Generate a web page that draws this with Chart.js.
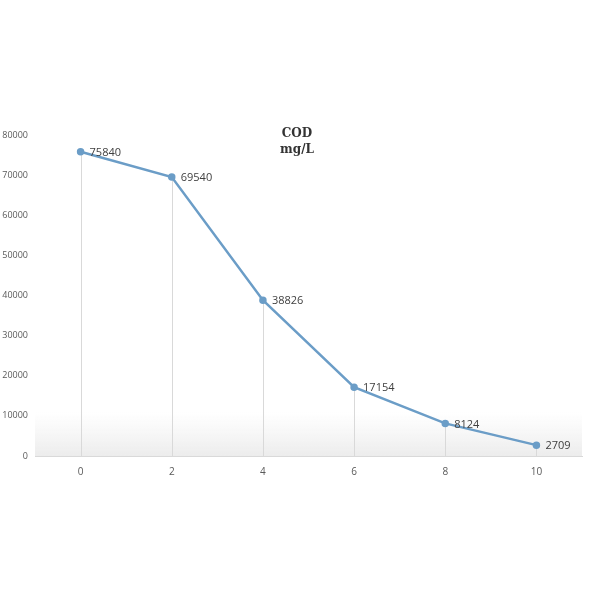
<!DOCTYPE html>
<html>
<head>
<meta charset="utf-8">
<script src="https://cdn.jsdelivr.net/npm/chart.js@4/dist/chart.umd.min.js"></script>
<style>
  html, body { margin: 0; padding: 0; background: #fff; }
  #wrap { width: 600px; height: 600px; position: relative; }
</style>
</head>
<body>
<div id="wrap"><canvas id="codChart" width="600" height="600"></canvas></div>
<script>
// chart data
const hours = ["0", "2", "4", "6", "8", "10"];
const codValues = [75840, 69540, 38826, 17154, 8124, 2709];
const yTicks = [0, 10000, 20000, 30000, 40000, 50000, 60000, 70000, 80000];
const titleLines = ["COD", "mg/L"];

const lineColor = "#6b9dc7";

// light grey shading along the bottom of the plot
const bottomBand = {
  id: "bottomBand",
  beforeDatasetsDraw(chart) {
    const { ctx, chartArea } = chart;
    const y = chart.scales.y;
    const top = y.getPixelForValue(11000);
    const bottom = y.getPixelForValue(0);
    const grad = ctx.createLinearGradient(0, top, 0, bottom);
    grad.addColorStop(0, "rgba(240,240,240,0)");
    grad.addColorStop(1, "rgba(236,236,236,1)");
    ctx.save();
    ctx.fillStyle = grad;
    ctx.fillRect(chartArea.left, top, chartArea.right - chartArea.left, bottom - top);
    ctx.restore();
  },
};

// vertical drop lines from each point down to the axis
const dropLines = {
  id: "dropLines",
  beforeDatasetsDraw(chart) {
    const { ctx } = chart;
    const meta = chart.getDatasetMeta(0);
    const base = chart.scales.y.getPixelForValue(0);
    ctx.save();
    ctx.strokeStyle = "#d9d9d9";
    ctx.lineWidth = 1;
    meta.data.forEach((pt) => {
      ctx.beginPath();
      ctx.moveTo(Math.round(pt.x) + 0.5, pt.y);
      ctx.lineTo(Math.round(pt.x) + 0.5, base);
      ctx.stroke();
    });
    ctx.restore();
  },
};

// value labels next to the points
const valueLabels = {
  id: "valueLabels",
  afterDatasetsDraw(chart) {
    const { ctx } = chart;
    const meta = chart.getDatasetMeta(0);
    ctx.save();
    ctx.fillStyle = "#404040";
    ctx.font = "11px 'Open Sans', sans-serif";
    ctx.textBaseline = "middle";
    ctx.textAlign = "left";
    meta.data.forEach((pt, i) => {
      ctx.fillText(String(codValues[i]), pt.x + 9, pt.y + 1);
    });
    ctx.restore();
  },
};

// two-line title sitting inside the plot
const innerTitle = {
  id: "innerTitle",
  afterDraw(chart) {
    const { ctx } = chart;
    ctx.save();
    ctx.fillStyle = "#333";
    ctx.font = "bold 12px 'DejaVu Serif', serif";
    ctx.textAlign = "center";
    ctx.textBaseline = "middle";
    titleLines.forEach((t, i) => {
      ctx.fillText(t, 297, 134 + i * 16);
    });
    ctx.restore();
  },
};

new Chart(document.getElementById("codChart").getContext("2d"), {
  type: "line",
  data: {
    labels: hours,
    datasets: [
      {
        data: codValues,
        borderColor: lineColor,
        backgroundColor: lineColor,
        borderWidth: 2.5,
        pointRadius: 2.5,
        pointHoverRadius: 2.5,
        tension: 0,
        fill: false,
      },
    ],
  },
  options: {
    responsive: false,
    animation: false,
    layout: { padding: { top: 135, bottom: 112, left: 0, right: 18 } },
    plugins: {
      legend: { display: false },
      tooltip: { enabled: false },
      title: { display: false },
    },
    scales: {
      x: {
        offset: true,
        grid: { display: false, drawTicks: false },
        border: { display: true, color: "#d9d9d9" },
        ticks: { color: "#595959", font: { size: 10, family: "'Open Sans', sans-serif" }, padding: 10 },
      },
      y: {
        min: 0,
        max: 80000,
        afterBuildTicks(axis) {
          axis.ticks = yTicks.map((v) => ({ value: v }));
        },
        afterFit(axis) {
          axis.width = 35;
        },
        grid: { display: false, drawTicks: false },
        border: { display: false },
        ticks: {
          color: "#595959",
          font: { size: 9, family: "'Open Sans', sans-serif" },
          padding: 7,
          callback: (v) => String(v),
        },
      },
    },
  },
  plugins: [bottomBand, dropLines, valueLabels, innerTitle],
});
</script>
</body>
</html>
